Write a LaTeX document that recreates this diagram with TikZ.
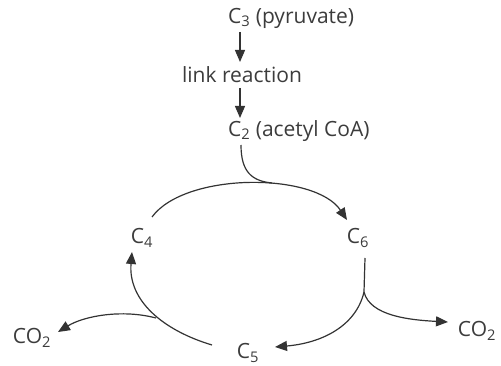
\documentclass[tikz,border=0pt]{standalone}
\usepackage{fontspec}
\setmainfont{Open Sans}
\usetikzlibrary{arrows.meta,calc}
\definecolor{ink}{HTML}{333333}
\definecolor{txt}{HTML}{3C3C3C}
\tikzset{
  lbl/.style={text=txt,inner sep=0pt,font=\fontsize{21}{23}\selectfont},
  arr/.style={draw=ink,line width=1.2pt,-{Triangle[length=12pt,width=10pt]}},
  ln/.style={draw=ink,line width=1.2pt}
}
\begin{document}
\begin{tikzpicture}[x=1pt,y=-1pt]
\useasboundingbox (0,0) rectangle (501,366);
\node[lbl,anchor=west] (c3) at (228,18) {C\textsubscript{3} (pyruvate)};
\node[lbl] (link) at (242,75) {link reaction};
\node[lbl,anchor=west] (c2) at (228,131) {C\textsubscript{2} (acetyl CoA)};
\node[lbl] (c4) at (142,238) {C\textsubscript{4}};
\node[lbl] (c6) at (358,238) {C\textsubscript{6}};
\node[lbl] (c5) at (248,353) {C\textsubscript{5}};
\node[lbl] (co2l) at (32,338) {CO\textsubscript{2}};
\node[lbl] (co2r) at (477,331) {CO\textsubscript{2}};
\coordinate (top) at (272,183);
\coordinate (fr) at (364,292);
\coordinate (fl) at (156,318);
% linear steps
\draw[arr] ($(c3.west)+(12,14)$) -- ($(c3.west)+(12,44)$);
\draw[arr] ($(link.center)+(-2,13)$) -- ($(c2.west)+(12,-13)$);
% cycle
\draw[arr] ($(c4.center)+(10,-21)$) .. controls (185,172) and (315,172) .. ($(c6.center)+(-11,-18)$);
\draw[ln] ($(c2.west)+(13,14)$) .. controls (241,172) and (252,181) .. (top);
\draw[ln] ($(c6.center)+(7,20)$) -- (fr);
\draw[arr] (fr) .. controls (356,326) and (322,343) .. ($(c5.center)+(27,-6)$);
\draw[arr] (fr) .. controls (370,316) and (410,320) .. ($(co2r.center)+(-29,-9)$);
\draw[arr] ($(c5.center)+(-36,-8)$) .. controls (162,330) and (128,300) .. ($(c4.center)+(-10,14)$);
\draw[arr] (fl) .. controls (122,309) and (84,316) .. ($(co2l.center)+(26,-6)$);
\end{tikzpicture}
\end{document}
